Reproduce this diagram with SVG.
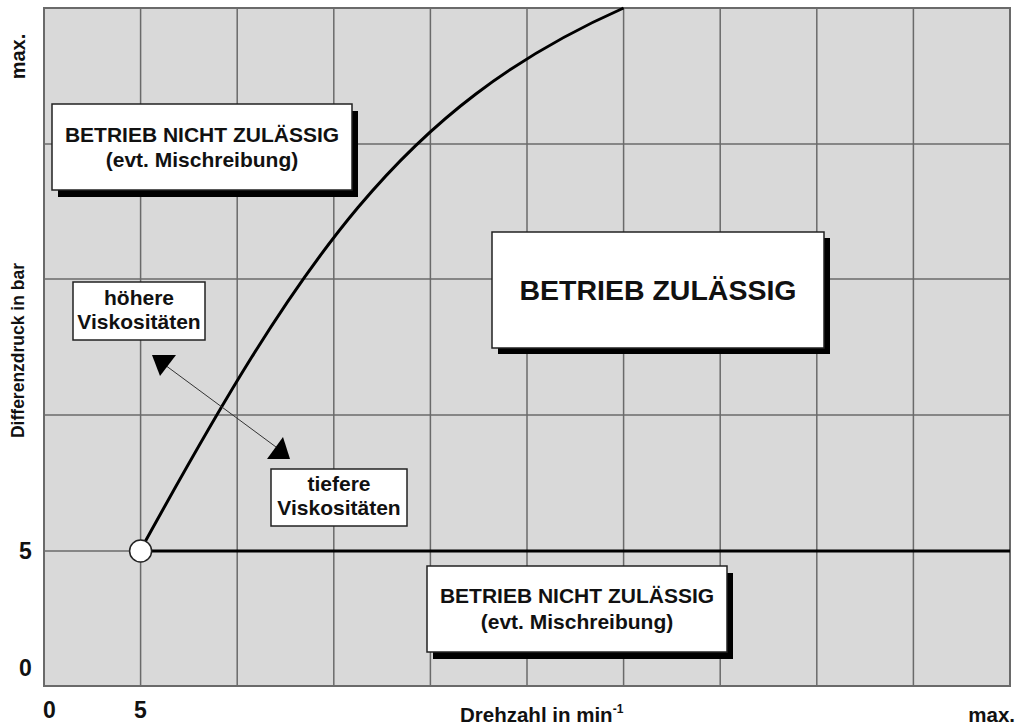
<svg xmlns="http://www.w3.org/2000/svg" width="1019" height="726" viewBox="0 0 1019 726">
<style>
  text { font-family: "Liberation Sans", Arial, Helvetica, sans-serif; font-weight: bold; fill: #111; }
  .grid { stroke: #6a6a6a; stroke-width: 1.5; fill: none; }
  .box { fill: #ffffff; stroke: #222; stroke-width: 1.5; }
  .shadow { fill: #000; }
  .t21 { font-size: 21px; text-anchor: middle; }
  .axis { font-size: 23px; text-anchor: middle; }
</style>
<rect x="0" y="0" width="1019" height="726" fill="#ffffff"/>
<g id="plot">
  <rect x="44" y="8" width="966" height="678" fill="#d9d9d9"/>
  <g class="grid">
    <line x1="140.6" y1="8" x2="140.6" y2="686"/>
    <line x1="237.2" y1="8" x2="237.2" y2="686"/>
    <line x1="333.8" y1="8" x2="333.8" y2="686"/>
    <line x1="430.4" y1="8" x2="430.4" y2="686"/>
    <line x1="527" y1="8" x2="527" y2="686"/>
    <line x1="623.6" y1="8" x2="623.6" y2="686"/>
    <line x1="720.2" y1="8" x2="720.2" y2="686"/>
    <line x1="816.8" y1="8" x2="816.8" y2="686"/>
    <line x1="913.4" y1="8" x2="913.4" y2="686"/>
    <line x1="44" y1="144" x2="1010" y2="144"/>
    <line x1="44" y1="279" x2="1010" y2="279"/>
    <line x1="44" y1="415" x2="1010" y2="415"/>
    <line x1="44" y1="551" x2="1010" y2="551"/>
    <rect x="44" y="8" width="966" height="678" stroke-width="2"/>
  </g>
</g>
<g id="connectors">
  <path id="limit-curve" d="M140,551 C300,260 400,107 623.6,8" fill="none" stroke="#000" stroke-width="3"/>
  <line id="limit-line" x1="140" y1="551" x2="1010" y2="551" stroke="#000" stroke-width="3"/>
  <line id="visc-arrow" x1="165" y1="365" x2="276" y2="447" stroke="#333" stroke-width="1"/>
  <polygon points="152,355 176,355 160,376" fill="#000"/>
  <polygon points="283,437 290,459 267,459" fill="#000"/>
</g>
<g id="start-point">
  <circle cx="140.6" cy="551" r="11" fill="#fff" stroke="#222" stroke-width="1.5"/>
</g>
<g id="box-nicht-oben">
  <rect class="shadow" x="58" y="111" width="300" height="86"/>
  <rect class="box" x="52" y="104" width="300" height="86"/>
  <text class="t21" x="202" y="142">BETRIEB NICHT ZULÄSSIG</text>
  <text class="t21" x="202" y="167">(evt. Mischreibung)</text>
</g>
<g id="box-zulaessig">
  <rect class="shadow" x="498" y="238" width="332" height="116"/>
  <rect class="box" x="492" y="232" width="332" height="116"/>
  <text x="658" y="300" font-size="28.5" text-anchor="middle">BETRIEB ZULÄSSIG</text>
</g>
<g id="box-nicht-unten">
  <rect class="shadow" x="433" y="573" width="300" height="86"/>
  <rect class="box" x="427" y="566" width="300" height="86"/>
  <text class="t21" x="577" y="603">BETRIEB NICHT ZULÄSSIG</text>
  <text class="t21" x="577" y="629">(evt. Mischreibung)</text>
</g>
<g id="box-hoehere">
  <rect class="box" x="73" y="282" width="132" height="58" stroke-width="2"/>
  <text class="t21" x="139" y="305">höhere</text>
  <text class="t21" x="139" y="329">Viskositäten</text>
</g>
<g id="box-tiefere">
  <rect class="box" x="271" y="469" width="136" height="57" stroke-width="2"/>
  <text class="t21" x="339" y="491">tiefere</text>
  <text class="t21" x="339" y="515">Viskositäten</text>
</g>
<g id="axis-labels">
  <text x="25" y="56.5" font-size="20" text-anchor="middle" transform="rotate(-90 25 56.5)">max.</text>
  <text x="23.5" y="350.5" font-size="17.5" text-anchor="middle" transform="rotate(-90 23.5 350.5)">Differenzdruck in bar</text>
  <text class="axis" x="25.5" y="559">5</text>
  <text class="axis" x="25.5" y="676">0</text>
  <text class="axis" x="49.5" y="718">0</text>
  <text class="axis" x="140.5" y="718">5</text>
  <text x="460" y="722" font-size="20.5">Drehzahl in min<tspan font-size="12" dy="-9">-1</tspan></text>
  <text x="1015" y="722" font-size="20.5" text-anchor="end">max.</text>
</g>
</svg>
